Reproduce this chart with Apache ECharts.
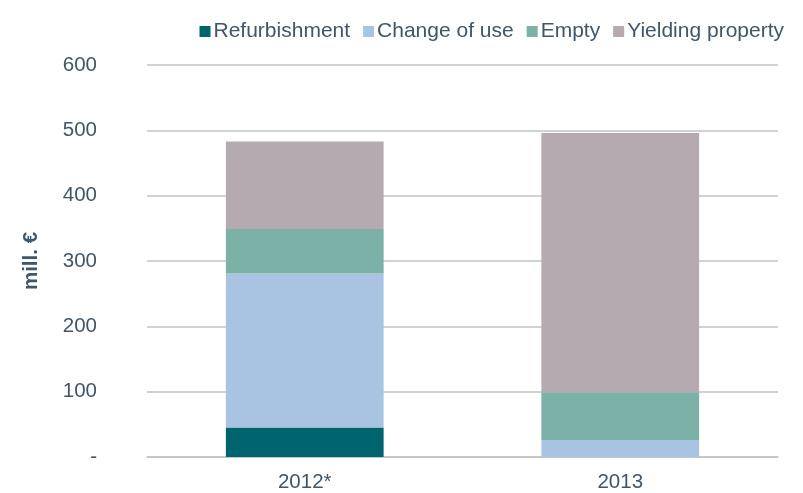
<!DOCTYPE html>
<html>
<head>
<meta charset="utf-8">
<script src="https://cdn.jsdelivr.net/npm/echarts@6/dist/echarts.min.js"></script>
<style>
  html, body { margin: 0; padding: 0; background: #fff; }
  #chart { width: 803px; height: 493px; }
</style>
</head>
<body>
<div id="chart"></div>
<script>
// categorias e valores (mill. €)
const categories = ['2012*', '2013'];
const seriesNames = ['Refurbishment', 'Change of use', 'Empty', 'Yielding property'];
const refurbishment = [45, 0];
const changeOfUse = [236, 26];
const empty = [68, 73];
const yielding = [134, 397];

const colors = ['#00646E', '#A9C4E2', '#7BB1A7', '#B5AAB0'];
const textColor = '#3F566B';

const chart = echarts.init(document.getElementById('chart'));

const values = [refurbishment, changeOfUse, empty, yielding];

const option = {
  animation: false,
  backgroundColor: '#fff',
  textStyle: { fontFamily: 'Liberation Sans, Arial, sans-serif' },
  legend: {
    right: 14,
    top: 16,
    itemWidth: 11,
    itemHeight: 11,
    itemGap: 13,
    icon: 'rect',
    textStyle: { color: textColor, fontSize: 21, padding: [0, 0, 0, -2] },
    data: seriesNames
  },
  grid: {
    left: 147,
    right: 25,
    top: 65,
    bottom: 35
  },
  xAxis: {
    type: 'category',
    data: categories,
    axisTick: { show: false },
    axisLine: { lineStyle: { color: '#BFC4C9', width: 1.5 } },
    axisLabel: { color: textColor, fontSize: 20.5, margin: 15 }
  },
  yAxis: {
    type: 'value',
    min: 0,
    max: 600,
    interval: 100,
    name: 'mill. €',
    nameLocation: 'middle',
    nameGap: 105,
    nameTextStyle: { color: textColor, fontSize: 20.5, fontWeight: 'bold' },
    axisLabel: {
      color: textColor,
      fontSize: 20.5,
      margin: 50,
      align: 'right',
      formatter: v => (v === 0 ? '-' : String(v))
    },
    splitLine: { lineStyle: { color: '#BFC4C9', width: 1.5 } }
  },
  series: seriesNames.map((name, i) => ({
    name: name,
    type: 'bar',
    stack: 'total',
    barWidth: '50%',
    data: values[i],
    itemStyle: { color: colors[i] }
  }))
};

chart.setOption(option);
</script>
</body>
</html>
